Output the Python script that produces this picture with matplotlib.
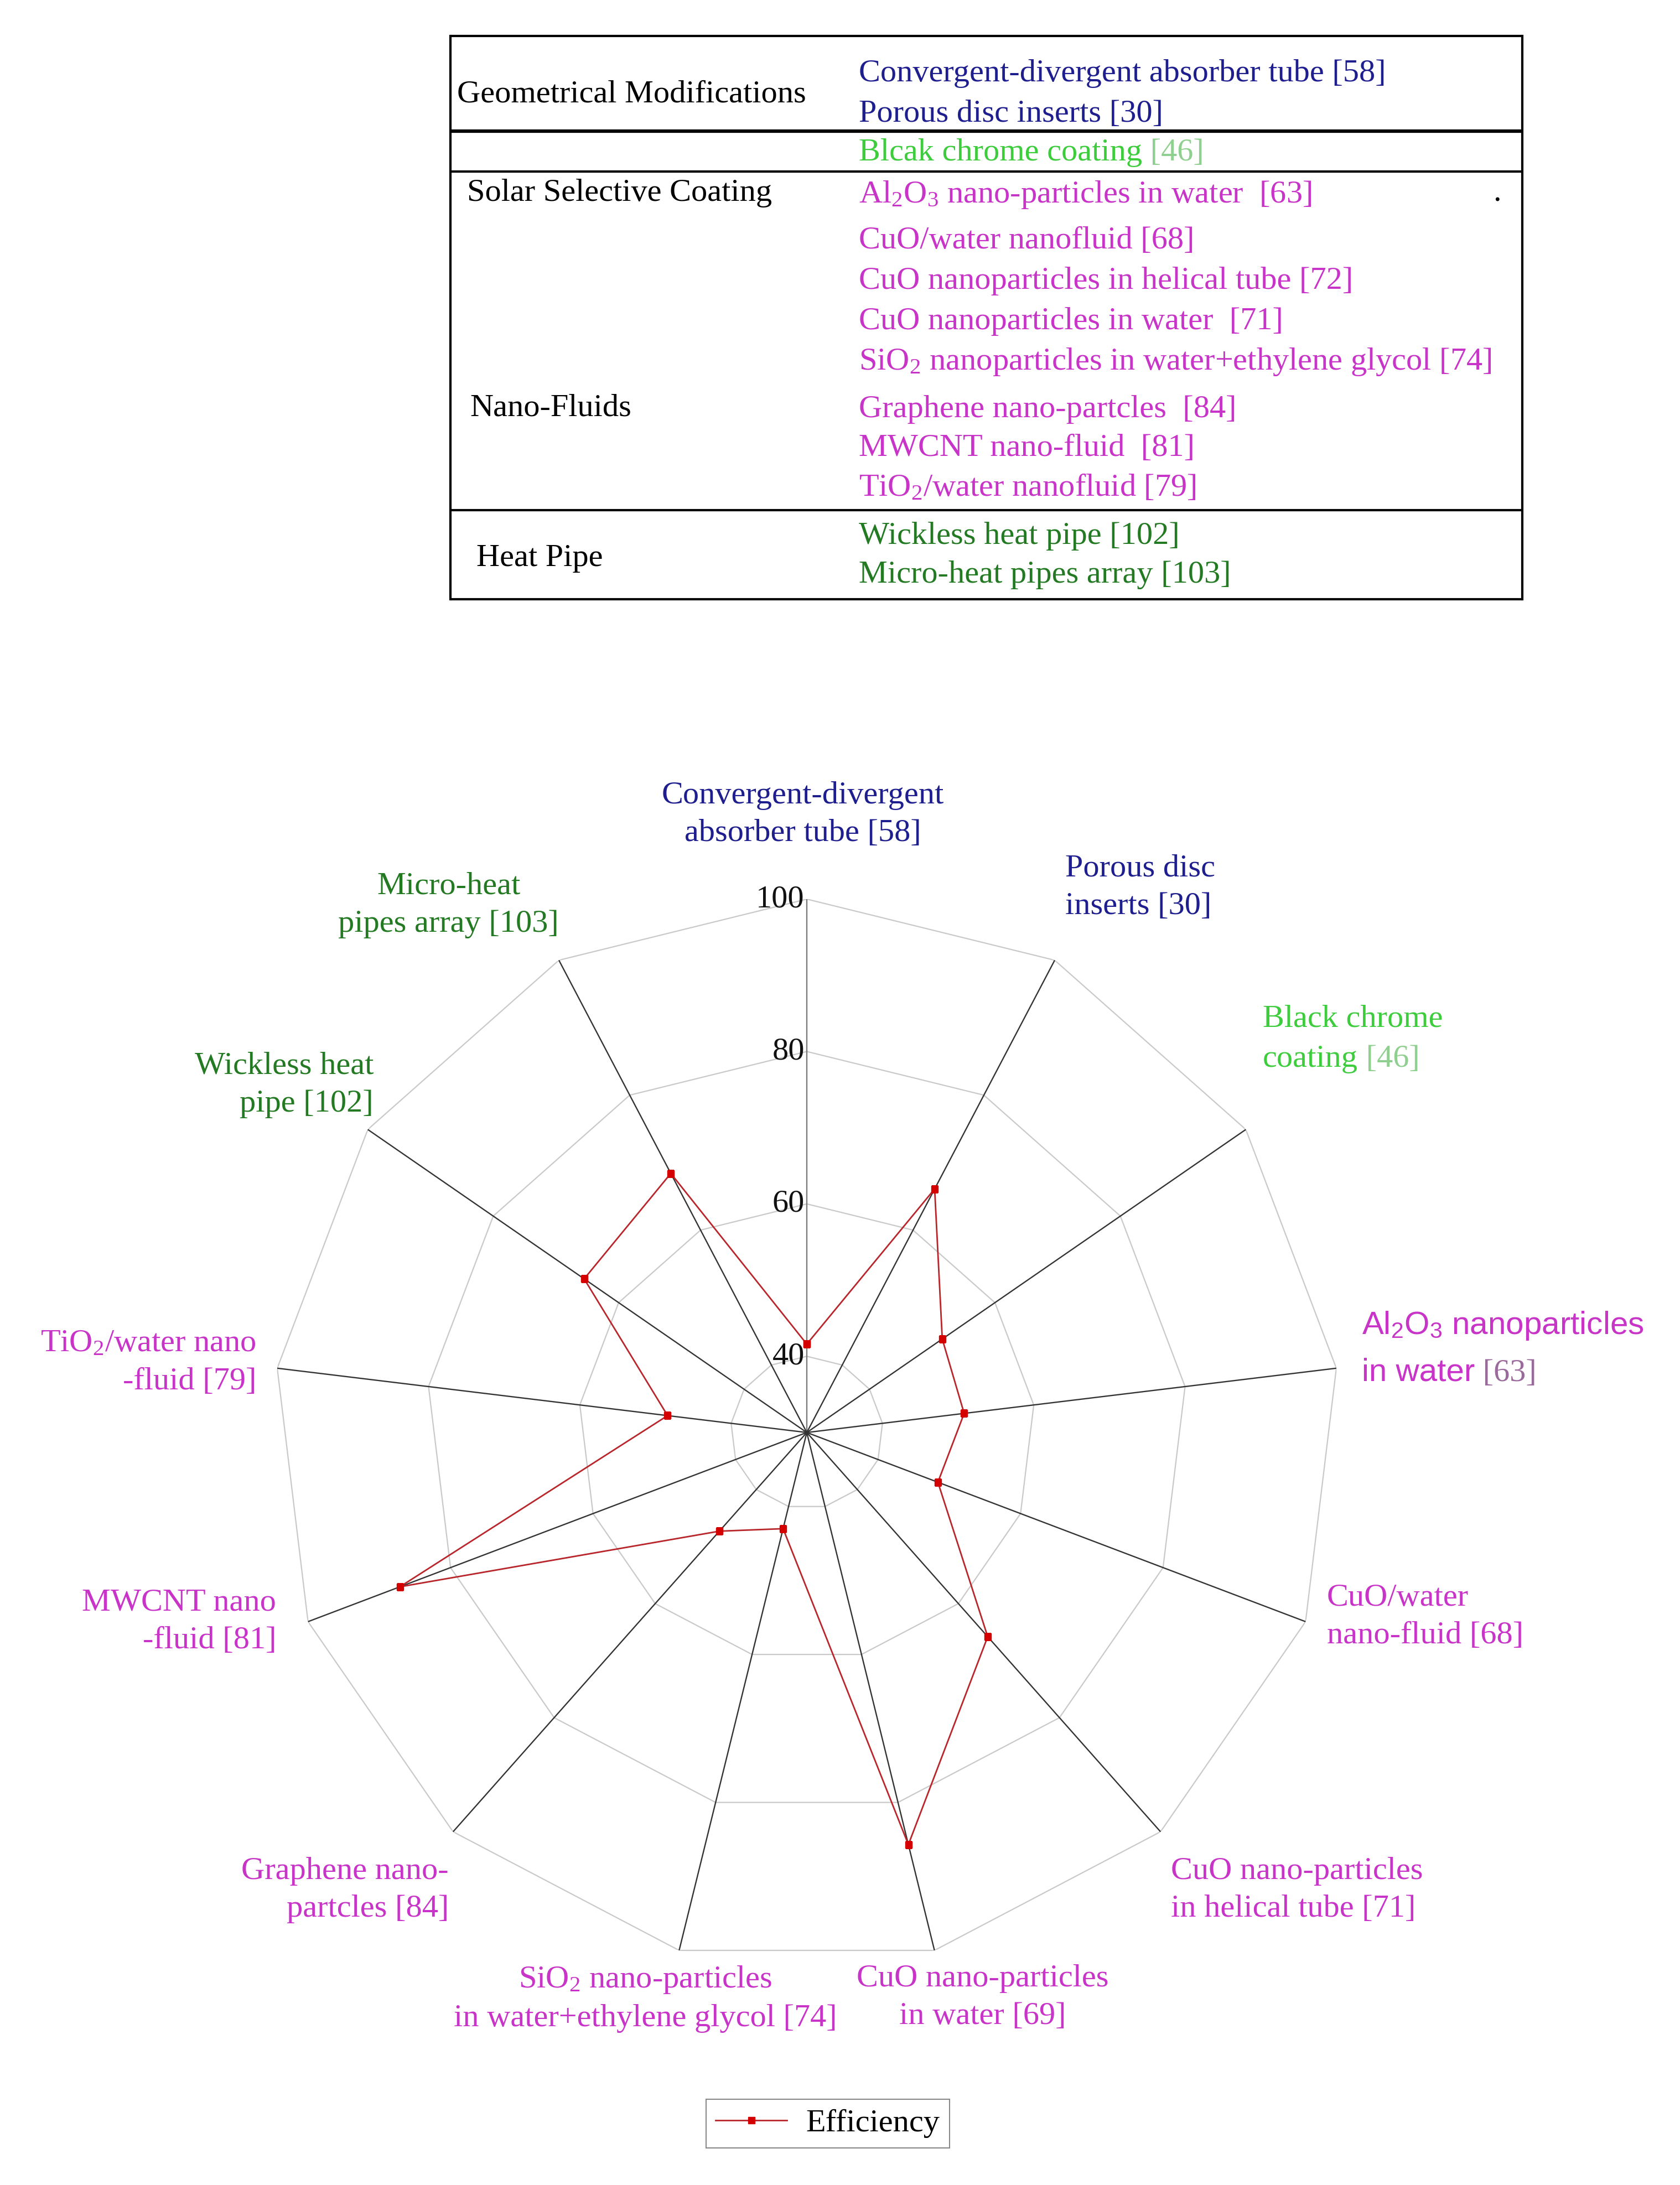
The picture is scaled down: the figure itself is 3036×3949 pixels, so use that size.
import numpy as np
import matplotlib
matplotlib.use("Agg")
import matplotlib.pyplot as plt

# ---------------- data ----------------
categories = ["Convergent-divergent absorber tube [58]", "Porous disc inserts [30]",
              "Black chrome coating [46]", "Al2O3 nanoparticles in water [63]",
              "CuO/water nano-fluid [68]", "CuO nano-particles in helical tube [71]",
              "CuO nano-particles in water [69]",
              "SiO2 nano-particles in water+ethylene glycol [74]",
              "Graphene nano-partcles [84]", "MWCNT nano-fluid [81]",
              "TiO2/water nano-fluid [79]", "Wickless heat pipe [102]",
              "Micro-heat pipes array [103]"]
efficiency = [41.6, 66.1, 51.6, 50.8, 48.4, 65.8, 85.7, 43.0, 47.3, 87.1, 48.4, 65.5, 68.4]
r_ticks = [40, 60, 80, 100]
r_min, r_max = 30, 100
series_name = "Efficiency"

table_groups = ["Geometrical Modifications", "Solar Selective Coating", "Nano-Fluids", "Heat Pipe"]
table_entries = ["Convergent-divergent absorber tube [58]", "Porous disc inserts [30]",
                 "Blcak chrome coating", r"Al$_\mathrm{2}$O$_\mathrm{3}$ nano-particles in water  [63]",
                 "CuO/water nanofluid [68]", "CuO nanoparticles in helical tube [72]",
                 "CuO nanoparticles in water  [71]",
                 r"SiO$_\mathrm{2}$ nanoparticles in water+ethylene glycol [74]",
                 "Graphene nano-partcles  [84]", "MWCNT nano-fluid  [81]",
                 r"TiO$_\mathrm{2}$/water nanofluid [79]",
                 "Wickless heat pipe [102]", "Micro-heat pipes array [103]"]

# ---------------- style ----------------
plt.rcParams["font.family"] = ["Liberation Serif", "DejaVu Serif"]
plt.rcParams["mathtext.fontset"] = "custom"
plt.rcParams["mathtext.rm"] = "Liberation Serif"
plt.rcParams["mathtext.it"] = "Liberation Serif:italic"
plt.rcParams["mathtext.bf"] = "Liberation Serif:bold"
plt.rcParams["mathtext.sf"] = "Liberation Sans"

BLUE = "#1e1e8e"
LGREEN = "#3ccc3c"
LGREEN_REF = "#8fcf8f"
MAG = "#c834c8"
MAG_REF = "#9a6a9a"
DGREEN = "#237a23"
FS = 42

W, H = 3036, 3949
fig = plt.figure(figsize=(W / 100, H / 100), dpi=100)

# ---------------- radar ----------------
cx, cy, R = 1458, 2589, 964
ax = fig.add_axes([(cx - R) / W, 1 - (cy + R) / H, 2 * R / W, 2 * R / H], projection="polar")
ax.set_theta_offset(np.pi / 2)
ax.set_theta_direction(-1)
n = len(categories)
theta = np.arange(n) * 2 * np.pi / n
theta_c = np.append(theta, theta[0])

for r in r_ticks:
    ax.plot(theta_c, [r] * (n + 1), color="#c9c9c9", lw=1.6, zorder=1)
for i, t in enumerate(theta):
    ax.plot([t, t], [r_min, r_max], color="#7a7a7a" if i == 0 else "#333333", lw=1.7, zorder=2)

vals_c = np.append(efficiency, efficiency[0])
ax.plot(theta_c, vals_c, color="#b8262b", lw=2.0, marker="s", ms=8,
        mfc="#d40000", mec="#d40000", zorder=4, label=series_name)

for r in r_ticks:
    ax.annotate(str(r), xy=(0, r), xytext=(-3, 0), textcoords="offset points",
                ha="right", va="center", fontsize=FS, color="#111111")

ax.set_ylim(r_min, r_max)
ax.set_xticks([])
ax.set_yticks([])
ax.grid(False)
ax.spines["polar"].set_visible(False)

leg = ax.legend(loc="center", bbox_to_anchor=(1496 / W, 1 - 3838 / H),
                bbox_transform=fig.transFigure, fontsize=FS, frameon=True,
                fancybox=False, edgecolor="#888888", framealpha=1,
                handlelength=2.2, borderpad=0.3, handletextpad=0.6)
leg.get_frame().set_linewidth(1.5)

# ---------------- overlay (pixel coordinates) ----------------
ov = fig.add_axes([0, 0, 1, 1], zorder=5)
ov.set_xlim(0, W)
ov.set_ylim(H, 0)
ov.axis("off")
ov.patch.set_alpha(0)

def lab(txt, x, y, ha, color, ma=None, **kw):
    return ov.text(x, y, txt, ha=ha, va="center", color=color, fontsize=FS,
                   multialignment=ma or ha, linespacing=1.42, **kw)

lab("Convergent-divergent\nabsorber tube [58]", 1451, 1472, "center", BLUE)
lab("Porous disc\ninserts [30]", 1925, 1604, "left", BLUE)
lab("Black chrome", 2282, 1841, "left", LGREEN)
t3 = lab("coating", 2282, 1914, "left", LGREEN)
ov.annotate(" [46]", xy=(1, 0), xycoords=t3, ha="left", va="bottom", color=LGREEN_REF, fontsize=FS)
lab(r"Al$_\mathsf{2}$O$_\mathsf{3}$ nanoparticles", 2461, 2396, "left", MAG, family="Liberation Sans")
t4 = lab("in water", 2461, 2481, "left", MAG, family="Liberation Sans")
ov.annotate(" [63]", xy=(1, 0), xycoords=t4, ha="left", va="bottom", color=MAG_REF, fontsize=FS)
lab("CuO/water\nnano-fluid [68]", 2398, 2922, "left", MAG)
lab("CuO nano-particles\nin helical tube [71]", 2116, 3416, "left", MAG)
lab("CuO nano-particles\nin water [69]", 1776, 3610, "center", MAG)
lab("SiO$_\\mathrm{2}$ nano-particles\nin water+ethylene glycol [74]", 1166, 3612, "center", MAG)
lab("Graphene nano-\npartcles [84]", 811, 3416, "right", MAG)
lab("MWCNT nano\n-fluid [81]", 499, 2931, "right", MAG)
lab("TiO$_\\mathrm{2}$/water nano\n-fluid [79]", 463, 2463, "right", MAG)
lab("Wickless heat\npipe [102]", 675, 1961, "right", DGREEN)
lab("Micro-heat\npipes array [103]", 1010, 1636, "right", DGREEN, ma="center")

# ---------------- table ----------------
tl, tr = 814, 2751
for y, lw in [(65, 3), (237, 4.5), (310, 3), (922, 3), (1083, 3)]:
    ov.plot([tl, tr], [y, y], color="black", lw=lw, solid_capstyle="butt")
for x in (tl, tr):
    ov.plot([x, x], [65, 1083], color="black", lw=3)

group_pos = [(826, 170), (844, 349), (849, 737), (861, 1009)]
for g, (x, y) in zip(table_groups, group_pos):
    ov.text(x, y, g, ha="left", va="center", fontsize=FS, color="black")

entry_y = [133, 206, 276, 352, 435, 508, 581, 654, 740, 810, 881, 969, 1039]
entry_col = [BLUE, BLUE, LGREEN] + [MAG] * 8 + [DGREEN, DGREEN]
for e, y, c in zip(table_entries, entry_y, entry_col):
    t = ov.text(1552, y, e, ha="left", va="center", fontsize=FS, color=c)
    if e.startswith("Blcak"):
        ov.annotate(" [46]", xy=(1, 0), xycoords=t, ha="left", va="bottom",
                    color=LGREEN_REF, fontsize=FS)
ov.text(2705, 349, ".", ha="center", va="center", fontsize=FS, color="black")

fig.savefig("out.png", dpi=100, facecolor="white")
